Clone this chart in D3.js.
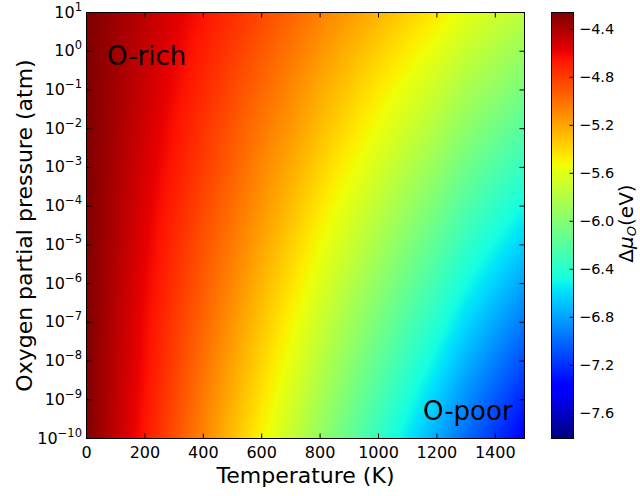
<!DOCTYPE html>
<html>
<head>
<meta charset="utf-8">
<script src="https://cdn.jsdelivr.net/npm/d3@7"></script>
<style>
  body { margin: 0; background: #fff; }
  svg text { font-family: "DejaVu Sans", sans-serif; fill: #000; }
</style>
</head>
<body>
<script>
// temperature grid (K)
var temperatures = [0, 100, 200, 300, 400, 500, 600, 700, 800, 900, 1000, 1100, 1200, 1300, 1400, 1500];
// log10 of the O2 partial pressure (atm), one row per value
var pressureExponents = [1, 0, -1, -2, -3, -4, -5, -6, -7, -8, -9, -10];
// delta mu_O (eV), rows follow pressureExponents, columns follow temperatures
var muRows = [
  [-4.26, -4.35, -4.45, -4.55, -4.65, -4.75, -4.85, -4.95, -5.06, -5.16, -5.26, -5.36, -5.46, -5.58, -5.67, -5.76],
  [-4.26, -4.36, -4.47, -4.58, -4.69, -4.80, -4.91, -5.02, -5.14, -5.25, -5.36, -5.47, -5.58, -5.71, -5.81, -5.91],
  [-4.26, -4.37, -4.49, -4.61, -4.73, -4.85, -4.97, -5.09, -5.22, -5.34, -5.46, -5.58, -5.70, -5.84, -5.94, -6.05],
  [-4.26, -4.38, -4.51, -4.64, -4.77, -4.90, -5.03, -5.15, -5.29, -5.42, -5.55, -5.68, -5.81, -5.96, -6.08, -6.20],
  [-4.26, -4.39, -4.53, -4.67, -4.81, -4.94, -5.09, -5.22, -5.37, -5.51, -5.65, -5.79, -5.93, -6.09, -6.22, -6.35],
  [-4.26, -4.40, -4.55, -4.70, -4.85, -4.99, -5.14, -5.29, -5.45, -5.60, -5.75, -5.90, -6.05, -6.22, -6.36, -6.50],
  [-4.26, -4.41, -4.57, -4.73, -4.89, -5.04, -5.20, -5.36, -5.53, -5.69, -5.85, -6.01, -6.17, -6.35, -6.50, -6.65],
  [-4.26, -4.42, -4.59, -4.76, -4.92, -5.09, -5.26, -5.43, -5.61, -5.78, -5.95, -6.12, -6.29, -6.48, -6.64, -6.80],
  [-4.26, -4.43, -4.61, -4.79, -4.96, -5.14, -5.32, -5.50, -5.69, -5.87, -6.05, -6.23, -6.41, -6.61, -6.78, -6.95],
  [-4.26, -4.44, -4.62, -4.81, -5.00, -5.19, -5.38, -5.57, -5.77, -5.96, -6.15, -6.34, -6.53, -6.74, -6.92, -7.10],
  [-4.26, -4.45, -4.64, -4.84, -5.04, -5.24, -5.44, -5.64, -5.85, -6.05, -6.25, -6.45, -6.65, -6.87, -7.06, -7.25],
  [-4.26, -4.46, -4.66, -4.87, -5.08, -5.29, -5.50, -5.71, -5.93, -6.14, -6.35, -6.56, -6.77, -7.00, -7.19, -7.39]
];
// colour bar limits (eV)
var colorRange = [-7.81, -4.26];
var xTicks = [0, 200, 400, 600, 800, 1000, 1200, 1400];
var cbTicks = [-4.4, -4.8, -5.2, -5.6, -6.0, -6.4, -6.8, -7.2, -7.6];

var W = 640, H = 496;
var pLeft = 86.5, pRight = 524.5, pTop = 12.5, pBottom = 438.5;

var svg = d3.select("body").append("svg")
  .attr("width", W)
  .attr("height", H);

var x = d3.scaleLinear().domain([0, 1500]).range([pLeft, pRight]);
var y = d3.scaleLog().domain([1e-10, 1e1]).range([pBottom, pTop]);

// jet colormap, channel by channel
var jetR = d3.scaleLinear().domain([0, 0.35, 0.66, 0.89, 1]).range([0, 0, 1, 1, 0.5]).clamp(true);
var jetG = d3.scaleLinear().domain([0, 0.125, 0.375, 0.64, 0.91, 1]).range([0, 0, 1, 1, 0, 0]).clamp(true);
var jetB = d3.scaleLinear().domain([0, 0.11, 0.34, 0.65, 1]).range([0.5, 1, 1, 0, 0]).clamp(true);
function jet(t) {
  return [Math.round(jetR(t) * 255), Math.round(jetG(t) * 255), Math.round(jetB(t) * 255)];
}

var norm = d3.scaleLinear().domain(colorRange).range([0, 1]).clamp(true);

// fractional grid index for a temperature / pressure exponent
var colIdx = d3.scaleLinear().domain(d3.extent(temperatures)).range([0, temperatures.length - 1]);
var rowIdx = d3.scaleLinear().domain([pressureExponents[0], pressureExponents[pressureExponents.length - 1]])
  .range([0, pressureExponents.length - 1]);

function valueAt(T, L) {
  var c = colIdx(T), r = rowIdx(L);
  var c0 = Math.max(0, Math.min(temperatures.length - 2, Math.floor(c)));
  var r0 = Math.max(0, Math.min(pressureExponents.length - 2, Math.floor(r)));
  var fc = c - c0, fr = r - r0;
  var a = muRows[r0][c0] * (1 - fc) + muRows[r0][c0 + 1] * fc;
  var b = muRows[r0 + 1][c0] * (1 - fc) + muRows[r0 + 1][c0 + 1] * fc;
  return a * (1 - fr) + b * fr;
}

// heat map drawn to a canvas, then placed in the svg
var pw = Math.round(pRight - pLeft), ph = Math.round(pBottom - pTop);
var canvas = document.createElement("canvas");
canvas.width = pw;
canvas.height = ph;
var ctx = canvas.getContext("2d");
var img = ctx.createImageData(pw, ph);
for (var j = 0; j < ph; j++) {
  var L = Math.log10(y.invert(pTop + j + 0.5));
  for (var i = 0; i < pw; i++) {
    var T = x.invert(pLeft + i + 0.5);
    var rgb = jet(norm(valueAt(T, L)));
    var k = (j * pw + i) * 4;
    img.data[k] = rgb[0];
    img.data[k + 1] = rgb[1];
    img.data[k + 2] = rgb[2];
    img.data[k + 3] = 255;
  }
}
ctx.putImageData(img, 0, 0);

svg.append("image")
  .attr("x", pLeft)
  .attr("y", pTop)
  .attr("width", pw)
  .attr("height", ph)
  .attr("preserveAspectRatio", "none")
  .attr("href", canvas.toDataURL());

// ticks pointing inward on all four sides
var tickLen = 5;
var g = svg.append("g").attr("stroke", "#000").attr("stroke-width", 1);
xTicks.forEach(function(t) {
  g.append("line").attr("x1", x(t)).attr("x2", x(t)).attr("y1", pBottom).attr("y2", pBottom - tickLen);
  g.append("line").attr("x1", x(t)).attr("x2", x(t)).attr("y1", pTop).attr("y2", pTop + tickLen);
});
pressureExponents.forEach(function(e) {
  var yy = y(Math.pow(10, e));
  g.append("line").attr("x1", pLeft).attr("x2", pLeft + tickLen).attr("y1", yy).attr("y2", yy);
  g.append("line").attr("x1", pRight).attr("x2", pRight - tickLen).attr("y1", yy).attr("y2", yy);
});

svg.append("rect")
  .attr("x", pLeft).attr("y", pTop)
  .attr("width", pRight - pLeft).attr("height", pBottom - pTop)
  .attr("fill", "none").attr("stroke", "#000").attr("stroke-width", 1);

// tick labels
svg.selectAll(".xlab").data(xTicks).enter().append("text")
  .attr("class", "xlab")
  .attr("x", function(d) { return x(d); })
  .attr("y", 457.5)
  .attr("text-anchor", "middle")
  .attr("font-size", 16)
  .text(function(d) { return d; });

var ylab = svg.selectAll(".ylab").data(pressureExponents).enter().append("text")
  .attr("class", "ylab")
  .attr("x", 82)
  .attr("y", function(d) { return y(Math.pow(10, d)) + 5; })
  .attr("text-anchor", "end")
  .attr("font-size", 16);
ylab.append("tspan").text("10");
ylab.append("tspan")
  .attr("font-size", 11.5)
  .attr("dy", -7)
  .text(function(d) { return String(d).replace("-", "\u2212"); });

// axis titles
svg.append("text")
  .attr("x", (pLeft + pRight) / 2)
  .attr("y", 483)
  .attr("text-anchor", "middle")
  .attr("font-size", 22)
  .text("Temperature (K)");

svg.append("text")
  .attr("transform", "translate(31.5," + ((pTop + pBottom) / 2) + ") rotate(-90)")
  .attr("text-anchor", "middle")
  .attr("font-size", 22)
  .text("Oxygen partial pressure (atm)");

// region annotations
svg.append("text").attr("x", 107).attr("y", 65).attr("font-size", 26).text("O-rich");
svg.append("text").attr("x", 423).attr("y", 420).attr("font-size", 26).text("O-poor");

// colour bar
var cbLeft = 551.5, cbRight = 573.5;
var cb = d3.scaleLinear().domain(colorRange).range([pBottom, pTop]);

var grad = svg.append("defs").append("linearGradient")
  .attr("id", "jetgrad")
  .attr("x1", 0).attr("y1", 1).attr("x2", 0).attr("y2", 0);
d3.range(0, 1.0001, 0.01).forEach(function(t) {
  var c = jet(t);
  grad.append("stop")
    .attr("offset", t)
    .attr("stop-color", "rgb(" + c.join(",") + ")");
});

svg.append("rect")
  .attr("x", cbLeft).attr("y", pTop)
  .attr("width", cbRight - cbLeft).attr("height", pBottom - pTop)
  .attr("fill", "url(#jetgrad)")
  .attr("stroke", "#000").attr("stroke-width", 1);

svg.selectAll(".cbtick").data(cbTicks).enter().append("line")
  .attr("class", "cbtick")
  .attr("x1", cbRight).attr("x2", cbRight - 4)
  .attr("y1", function(d) { return cb(d); })
  .attr("y2", function(d) { return cb(d); })
  .attr("stroke", "#000");

svg.selectAll(".cblab").data(cbTicks).enter().append("text")
  .attr("class", "cblab")
  .attr("x", 579)
  .attr("y", function(d) { return cb(d) + 5; })
  .attr("font-size", 14.5)
  .text(function(d) { return "\u2212" + Math.abs(d).toFixed(1); });

var cbTitle = svg.append("text")
  .attr("transform", "translate(633," + ((pTop + pBottom) / 2 - 2) + ") rotate(-90)")
  .attr("text-anchor", "middle")
  .attr("font-size", 20);
cbTitle.append("tspan").text("\u0394");
cbTitle.append("tspan").attr("font-style", "italic").text("\u03bc");
cbTitle.append("tspan").attr("font-style", "italic").attr("font-size", 13).attr("dy", 3).text("O");
cbTitle.append("tspan").attr("dy", -3).text("(eV)");
</script>
</body>
</html>
